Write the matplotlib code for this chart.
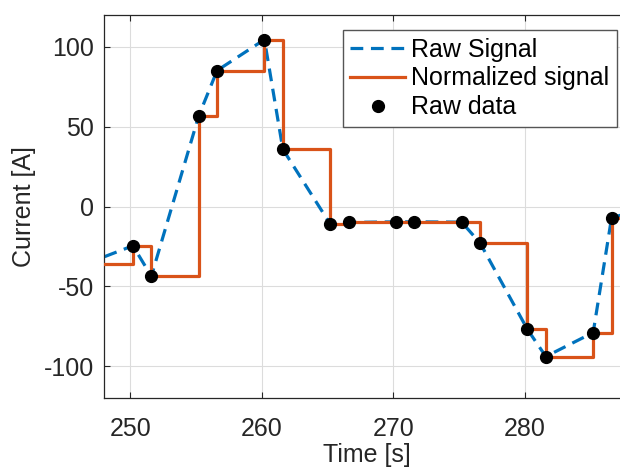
import matplotlib
matplotlib.use("Agg")
import matplotlib.pyplot as plt

# Sampled current readings (pairs 1.4 s apart, every 5 s)
time_s = [246.6, 250.2, 251.6, 255.2, 256.6, 260.2, 261.6, 265.2, 266.6,
          270.2, 271.6, 275.2, 276.6, 280.2, 281.6, 285.2, 286.6, 290.2]
current_a = [-36.0, -24.6, -43.7, 56.7, 85.2, 104.6, 35.9, -11.0, -10.0,
             -9.6, -9.6, -9.8, -22.9, -77.0, -94.0, -79.0, -7.0, 1.0]

x_ticks = [250, 260, 270, 280]
y_ticks = [-100, -50, 0, 50, 100]

BLUE = "#0072BD"
ORANGE = "#D95319"
AX_COLOR = "#262626"
FS = 18

plt.rcParams["font.family"] = ["Liberation Sans", "DejaVu Sans"]
plt.rcParams["axes.unicode_minus"] = False

fig = plt.figure(figsize=(6.2, 4.68), dpi=100)
# axes runs past the right edge of the image, like the cropped original
ax = fig.add_axes([104 / 620, 1 - 398 / 468, 526 / 620, 383 / 468])

ax.plot(time_s, current_a, "--", color=BLUE, lw=2.3,
        dashes=(4, 2.4), label="Raw Signal", zorder=2)
ax.plot(time_s, current_a, "-", color=ORANGE, lw=2.3,
        drawstyle="steps-post", label="Normalized signal", zorder=3)
ax.plot(time_s, current_a, "o", color="black", ms=8.5,
        label="Raw data", zorder=4)

ax.set_xlim(248, 288)
ax.set_ylim(-120, 120)
ax.set_xticks(x_ticks)
ax.set_yticks(y_ticks)
ax.grid(True, color="#dcdcdc", lw=0.8)
ax.set_axisbelow(True)

ax.tick_params(direction="in", top=True, right=False, length=4,
               labelsize=FS, colors=AX_COLOR)
ax.tick_params(axis="x", pad=14)
ax.tick_params(axis="y", pad=7)
for side in ["left", "bottom", "top"]:
    ax.spines[side].set_color(AX_COLOR)
    ax.spines[side].set_linewidth(0.9)
ax.spines["right"].set_visible(False)

ax.set_xlabel("Time [s]", fontsize=FS, color=AX_COLOR, labelpad=1)
ax.set_ylabel("Current [A]", fontsize=FS, color=AX_COLOR, labelpad=6)

leg = ax.legend(loc="upper right", bbox_to_anchor=(617 / 620, 1 - 30 / 468),
                bbox_transform=fig.transFigure, fontsize=FS, frameon=True,
                fancybox=False, edgecolor="#555555", framealpha=1,
                handlelength=2.2, handletextpad=0.25, labelspacing=0.2,
                borderpad=0.3, borderaxespad=0)
leg.get_frame().set_linewidth(1.0)

fig.savefig("out.png", dpi=100)
